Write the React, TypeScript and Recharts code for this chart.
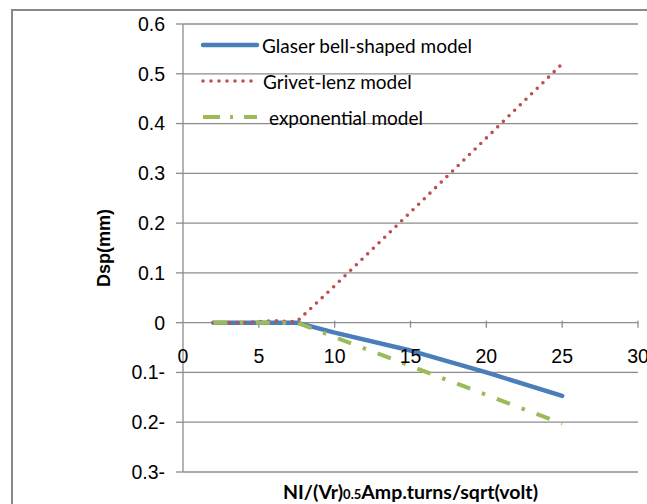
import React from 'react';
import {
  LineChart,
  Line,
  XAxis,
  YAxis,
  CartesianGrid,
  ReferenceLine,
  ReferenceDot,
  Legend,
} from 'recharts';

// ---- data ----
const glaserX = [2, 7.5, 10, 15, 20, 25];
const glaserY = [0, 0, -0.02, -0.056, -0.1, -0.147];

const grivetX = [2, 3, 4, 5, 6, 7, 7.5, 10, 15, 20, 25];
const grivetY = [0, 0, 0, 0.002, 0.004, 0.002, 0.002, 0.074, 0.222, 0.371, 0.52];

const expX = [2, 7.5, 10, 15, 20, 25];
const expY = [0, 0, -0.029, -0.087, -0.145, -0.203];

const xTicks = [0, 5, 10, 15, 20, 25, 30];
const yTicks = [-0.3, -0.2, -0.1, 0, 0.1, 0.2, 0.3, 0.4, 0.5, 0.6];

const seriesNames = ['Glaser bell-shaped model', 'Grivet-lenz model', 'exponential model'];
const yTitle = 'Dsp(mm)';
const xTitleParts = ['NI/(Vr)', '0.5', 'Amp.turns/sqrt(volt)'];

// ---- styles ----
const seriesColors = ['#4a7ebb', '#c0504d', '#9bbb59'];
const seriesWidths = [4.5, 3.6, 4];
const seriesDash = ['', '0 7.9', '14 12.5 3.5 12.5'];
const seriesCaps: ('round' | 'butt')[] = ['round', 'round', 'butt'];
const legendDash = ['', '0 8', '17 10 3 11'];
const legendGap = [2, 3, 9];
const gridColor = '#8c8c8c';

const zip = (xs: number[], ys: number[]) => xs.map((x, i) => ({ x, y: ys[i] }));
const glaserData = zip(glaserX, glaserY);
const grivetData = zip(grivetX, grivetY);
const expData = zip(expX, expY);
const seriesData = [glaserData, grivetData, expData];

const fmtY = (v: number) => {
  if (Math.abs(v) < 1e-9) return '0';
  if (v < 0) return `${Math.abs(v).toFixed(1)}-`;
  return v.toFixed(1);
};

const XTitle = (props: any) => {
  const vb = props.viewBox || {};
  const cx = vb.x + vb.width / 2;
  const cy = vb.y + vb.height / 2 + 11;
  return (
    <text
      x={cx}
      y={cy}
      textAnchor="middle"
      fontFamily="Lato, 'Open Sans', sans-serif"
      fontWeight="bold"
      fontSize={19.5}
      fill="#000"
    >
      <tspan>{xTitleParts[0]}</tspan>
      <tspan fontSize={13}>{xTitleParts[1]}</tspan>
      <tspan>{xTitleParts[2]}</tspan>
    </text>
  );
};

const renderLegend = () => (
  <div style={{ fontFamily: "Lato, 'Open Sans', sans-serif", fontSize: 19, color: '#000' }}>
    {seriesNames.map((name, i) => (
      <div key={name} style={{ display: 'flex', alignItems: 'center', height: 36, whiteSpace: 'nowrap' }}>
        <svg width={60} height={12} style={{ display: 'block' }}>
          <line
            x1={3}
            x2={57}
            y1={6}
            y2={6}
            stroke={seriesColors[i]}
            strokeWidth={seriesWidths[i]}
            strokeDasharray={legendDash[i] || undefined}
            strokeLinecap={seriesCaps[i]}
          />
        </svg>
        <span style={{ marginLeft: legendGap[i] }}>{name}</span>
      </div>
    ))}
  </div>
);

export default function App() {
  return (
    <div
      style={{
        position: 'fixed',
        left: 0,
        top: 0,
        width: 647,
        height: 504,
        overflow: 'hidden',
        background: '#fff',
      }}
    >
      <div
        style={{
          position: 'absolute',
          left: 11,
          top: 9,
          width: 700,
          height: 600,
          border: '2px solid #898989',
        }}
      />
      <div style={{ position: 'absolute', left: 0, top: 0 }}>
        <LineChart width={647} height={504} margin={{ top: 24, right: 9, bottom: 0, left: 0 }}>
          <CartesianGrid horizontal vertical={false} stroke={gridColor} strokeWidth={1.3} />
          <XAxis
            dataKey="x"
            type="number"
            domain={[0, 30]}
            ticks={xTicks}
            axisLine={false}
            tickLine={false}
            tick={false}
            height={32}
            label={{ content: XTitle }}
          />
          <YAxis
            type="number"
            domain={[-0.3, 0.6]}
            ticks={yTicks}
            interval={0}
            width={183}
            tickFormatter={fmtY}
            tickSize={7}
            tickMargin={11}
            axisLine={{ stroke: gridColor, strokeWidth: 1.3 }}
            tickLine={{ stroke: gridColor, strokeWidth: 1.3 }}
            tick={{ fill: '#000', fontSize: 19.5, fontFamily: "'Liberation Sans', Arial, sans-serif" }}
            label={{
              value: yTitle,
              angle: -90,
              position: 'center',
              dx: 12,
              fill: '#000',
              fontSize: 18,
              fontWeight: 'bold',
              fontFamily: "'Liberation Sans', Arial, sans-serif",
            }}
          />
          {xTicks.slice(1).map((t) => (
            <ReferenceLine
              key={`tl${t}`}
              segment={[
                { x: t, y: 0.004 },
                { x: t, y: -0.01 },
              ]}
              stroke={gridColor}
              strokeWidth={1.3}
            />
          ))}
          {xTicks.map((t) => (
            <ReferenceDot
              key={`tx${t}`}
              x={t}
              y={0}
              r={0}
              fill="none"
              stroke="none"
              label={{
                value: String(t),
                position: 'bottom',
                offset: 26,
                fill: '#000',
                fontSize: 19.5,
                fontFamily: "'Liberation Sans', Arial, sans-serif",
              }}
            />
          ))}
          <Legend
            layout="vertical"
            align="center"
            verticalAlign="middle"
            content={renderLegend}
            wrapperStyle={{ left: 200, top: 27, width: 'auto', height: 'auto' }}
          />
          {seriesData.map((d, i) => (
            <Line
              key={seriesNames[i]}
              data={d}
              dataKey="y"
              name={seriesNames[i]}
              type="linear"
              stroke={seriesColors[i]}
              strokeWidth={seriesWidths[i]}
              strokeDasharray={seriesDash[i] || undefined}
              strokeLinecap={seriesCaps[i]}
              strokeLinejoin="round"
              dot={false}
              activeDot={false}
              isAnimationActive={false}
            />
          ))}
        </LineChart>
      </div>
    </div>
  );
}
